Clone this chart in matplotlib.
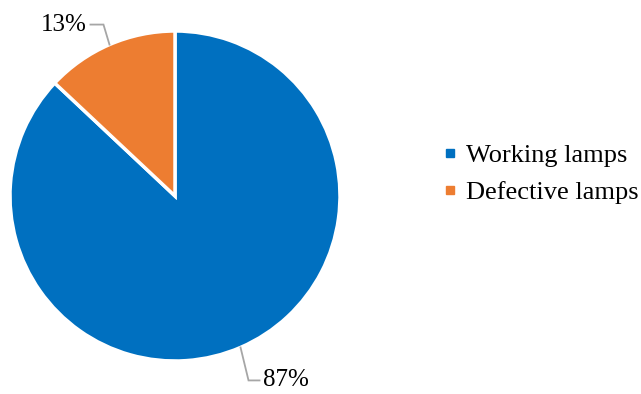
import matplotlib
matplotlib.use("Agg")
import matplotlib.pyplot as plt
import numpy as np
from matplotlib.lines import Line2D

labels = ["Working lamps", "Defective lamps"]
shares = [87, 13]
colors = ["#0070C0", "#ED7D31"]

# leader line offsets (elbow, end) in pixels relative to wedge edge point
leader_offsets = {
    "Working lamps": ((8, -33), (19, -33)),
    "Defective lamps": ((-6, 20), (-19, 20)),
}

plt.rcParams["font.family"] = ["Liberation Serif", "DejaVu Serif"]

W, H = 641, 394
fig = plt.figure(figsize=(W / 100, H / 100), dpi=100)
ax = fig.add_axes([0, 0, 1, 1])

cx, cy, r = 175, 198, 165
wedges, _ = ax.pie(shares, colors=colors, startangle=90, counterclock=False,
                   center=(cx, cy), radius=r,
                   wedgeprops=dict(edgecolor="white", linewidth=2.5))
ax.set_xlim(0, W)
ax.set_ylim(0, H)
ax.set_aspect("auto")
ax.axis("off")

for w, lab, val in zip(wedges, labels, shares):
    ang = np.deg2rad((w.theta1 + w.theta2) / 2)
    ex, ey = cx + r * np.cos(ang), cy + r * np.sin(ang)
    (dx1, dy1), (dx2, dy2) = leader_offsets[lab]
    ax.plot([ex, ex + dx1, ex + dx2], [ey, ey + dy1, ey + dy2],
            color="#A6A6A6", lw=1.3, solid_joinstyle="miter")
    ha = "left" if dx2 > 0 else "right"
    tx = ex + dx2 + (3 if dx2 > 0 else -4)
    ax.text(tx, ey + dy2, f"{val}%", ha=ha, va="center", fontsize=18)

handles = [Line2D([], [], marker="s", ls="", color=c, markersize=6) for c in colors]
fig.legend(handles, labels, loc="center left", bbox_to_anchor=(432 / W, (H - 174) / H),
           frameon=False, fontsize=19, handlelength=0.6, handletextpad=0.3,
           labelspacing=0.5, borderaxespad=0)

fig.savefig("out.png", dpi=100)
